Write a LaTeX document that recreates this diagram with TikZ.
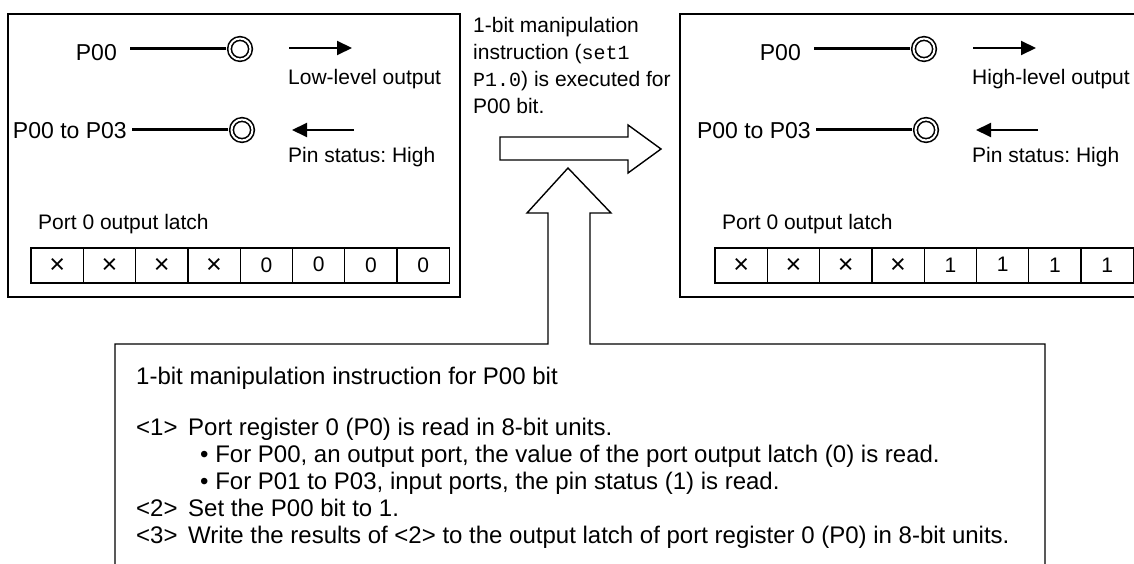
\documentclass[tikz,border=0pt]{standalone}
\usepackage{fontspec}
\setmainfont{Liberation Sans}
\newfontfamily\codefont{Liberation Mono}
\usetikzlibrary{arrows.meta, positioning}
\frenchspacing

\begin{document}
\begin{tikzpicture}[
    x=1pt, y=-1pt,
    >={Triangle[length=15pt, width=14pt]},
    panel/.style = {
        rectangle, draw, line width=1.8pt,
        anchor=north west, inner sep=0pt
    },
    bitcell/.style = {
        rectangle, draw, line width=1.3pt,
        minimum width=52.3pt, minimum height=35pt,
        inner sep=0pt, font=\fontsize{21}{21}\selectfont
    },
    pinlabel/.style = {anchor=base east, inner sep=0pt, font=\fontsize{23}{23}\selectfont},
    note/.style = {anchor=base west, inner sep=0pt, font=\fontsize{21}{21}\selectfont},
    pad/.style = {
        circle, draw, line width=1.6pt,
        double, double distance=2pt,
        minimum size=21pt, inner sep=0pt
    },
    wire/.style = {line width=3pt, shorten >=2.6pt},
    flow/.style = {->, line width=2pt},
    hollow/.style = {draw, line width=1.4pt, line join=miter},
    listline/.style = {anchor=base west, inner sep=0pt, font=\fontsize{24}{27}\selectfont}
]
\useasboundingbox (0,0) rectangle (1134,564);

% ===== PORT PANELS =====
\node[panel, minimum width=452pt, minimum height=283pt] (before) at (7,13) {};
\node[panel, minimum width=470pt, minimum height=283pt] (after) at (679,13) {};

\foreach \dx/\pfx/\lvl/\bit in {0/L/Low/0, 684/R/High/1} {
  \begin{scope}[xshift=\dx]
    \node[pinlabel] (\pfx-lblA) at (117,61) {P00};
    \node[pinlabel] (\pfx-lblB) at (127,139) {P00 to P03};
    \node[pad] (\pfx-padA) at (240,49) {};
    \node[pad] (\pfx-padB) at (242,130) {};
    \draw[wire] ([xshift=13pt]\pfx-lblA.east |- \pfx-padA) -- (\pfx-padA);
    \draw[wire] ([xshift=5pt]\pfx-lblB.east |- \pfx-padB) -- (\pfx-padB);

    \coordinate (\pfx-outA) at (289,48);
    \coordinate (\pfx-outB) at (352,48);
    \coordinate (\pfx-inA) at (354,130);
    \coordinate (\pfx-inB) at (292,130);
    \draw[flow] (\pfx-outA) -- (\pfx-outB);
    \draw[flow] (\pfx-inA) -- (\pfx-inB);

    \node[note] (\pfx-level) at (288,85) {\lvl-level output};
    \node[note] (\pfx-pin) at (288,163) {Pin status: High};
    \node[note] (\pfx-latch) at (38,229) {Port 0 output latch};

    % latch bits
    \foreach \i/\v in {0/{\fontsize{27}{27}\selectfont ×}, 1/{\fontsize{27}{27}\selectfont ×},
                       2/{\fontsize{27}{27}\selectfont ×}, 3/{\fontsize{27}{27}\selectfont ×},
                       4/\bit, 5/\bit, 6/\bit, 7/\bit}
      \node[bitcell] (\pfx-c\i) at (57.15+52.3*\i, 265.5)
        {\ifnum\i=5 \raisebox{3pt}{\v}\else\v\fi};
  \end{scope}
}

% ===== INSTRUCTION NOTE =====
\node[anchor=north west, align=left, inner sep=0pt,
      font=\fontsize{21}{27}\selectfont] (execnote) at (473,17) {%
    1-bit manipulation\\
    instruction ({\codefont\fontsize{20}{27}\selectfont set1}\\
    {\codefont\fontsize{20}{27}\selectfont P1.0}) is executed for\\
    P00 bit.};

% ===== HOLLOW ARROWS =====
\draw[hollow] (500,137) -- (628,137) -- (628,125) -- (661,149)
    -- (628,173) -- (628,160) -- (500,160) -- cycle;
\draw[hollow] (115,580) -- (115,344) -- (548,344) -- (548,213) -- (527,213)
    -- (568,168) -- (611,213) -- (590,213) -- (590,344) -- (1045,344) -- (1045,580);

% ===== SEQUENCE =====
\node[listline] (title) at (136,384) {1-bit manipulation instruction for P00 bit};
\node[listline] (stepA) at (136,435) {\makebox[52pt][l]{<1>}Port register 0 (P0) is read in 8-bit units.};
\node[listline] (noteA) at (200,462) {• For P00, an output port, the value of the port output latch (0) is read.};
\node[listline] (noteB) at (200,489) {• For P01 to P03, input ports, the pin status (1) is read.};
\node[listline] (stepB) at (136,516) {\makebox[52pt][l]{<2>}Set the P00 bit to 1.};
\node[listline] (stepC) at (136,543) {\makebox[52pt][l]{<3>}Write the results of <2> to the output latch of port register 0 (P0) in 8-bit units.};
\end{tikzpicture}
\end{document}
